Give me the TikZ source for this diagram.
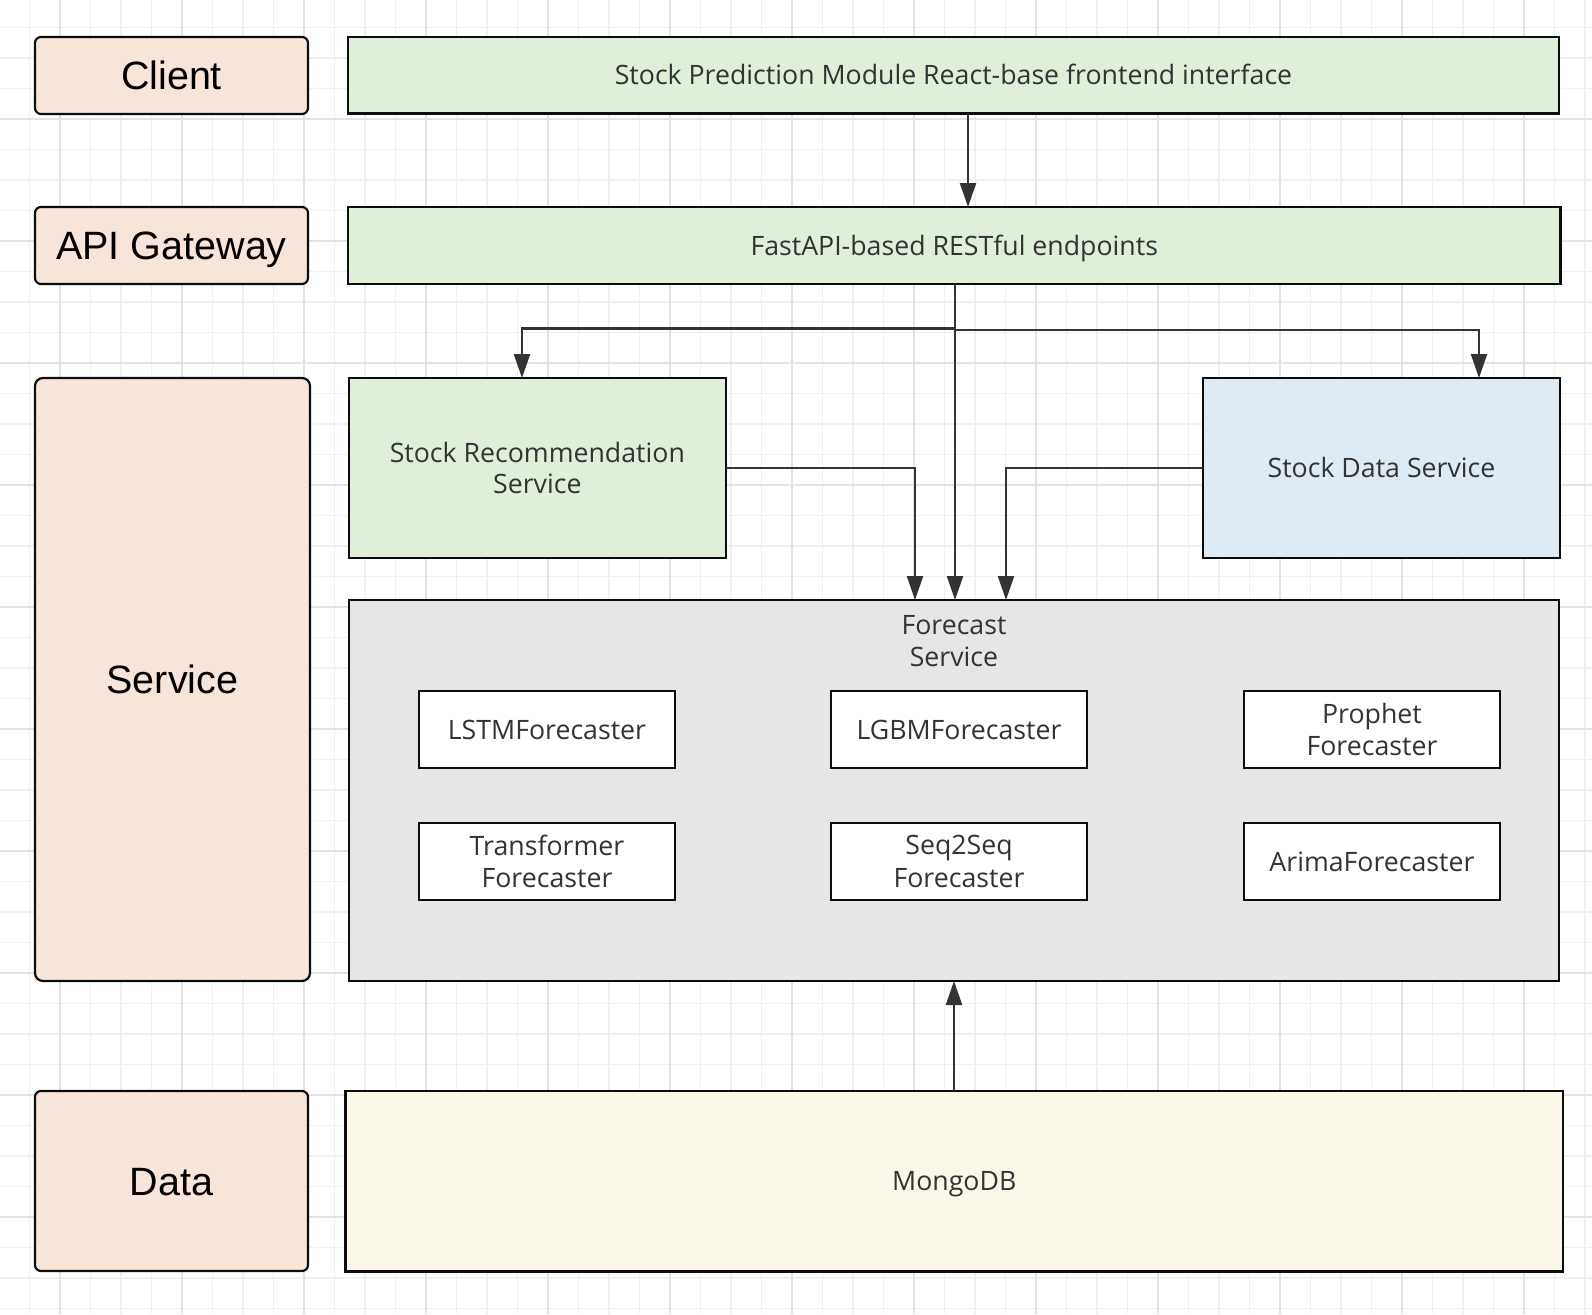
\documentclass[tikz,border=0pt]{standalone}
\usepackage{fontspec}
\setmainfont{Open Sans}
\newfontfamily\arialfont{Liberation Sans}
\usetikzlibrary{arrows.meta}
\definecolor{peach}{HTML}{F8E5DA}
\definecolor{lgreen}{HTML}{E0EFDA}
\definecolor{lblue}{HTML}{DEEAF4}
\definecolor{lgray}{HTML}{E6E6E6}
\definecolor{cream}{HTML}{FBF7E9}
\definecolor{txt}{HTML}{333333}
\definecolor{gminor}{HTML}{F0F0F0}
\definecolor{gmajor}{HTML}{E3E3E3}
\definecolor{conn}{HTML}{333333}
\tikzset{
  gridminor/.style={draw=gminor, line width=1.5pt},
  gridmajor/.style={draw=gmajor, line width=2pt},
  layerbox/.style={draw=black!95, line width=2.2pt, fill=peach, rounded corners=6pt,
    inner sep=0pt, outer sep=0pt, font=\arialfont\fontsize{39.5}{46}\selectfont, text=black,
    text height=28.3pt, text depth=0pt},
  compbox/.style={draw=black!95, line width=2.4pt, inner sep=0pt, outer sep=0pt,
    font=\fontsize{26.7}{32.5}\selectfont, text=txt, align=center},
  oneline/.style={text height=19.1pt, text depth=0pt},
  innerbox/.style={compbox, fill=white},
  conn/.style={draw=conn, line width=2.2pt, -{Triangle[length=24pt,width=16pt]}},
}
\begin{document}
\begin{tikzpicture}[x=1pt,y=-1pt]
\useasboundingbox (0,0) rectangle (1592,1314);
\fill[white] (0,0) rectangle (1592,1314);
% grid
\foreach \k in {0,...,52} \draw[gridminor] ({-1+30.5*\k},0) -- ({-1+30.5*\k},1314);
\foreach \k in {0,...,43} \draw[gridminor] (0,{-3+30.5*\k}) -- (1592,{-3+30.5*\k});
\foreach \k in {0,...,12} \draw[gridmajor] ({60+122*\k},0) -- ({60+122*\k},1314);
\foreach \k in {0,...,10} \draw[gridmajor] (0,{-3+122*\k}) -- (1592,{-3+122*\k});

% layer labels
\node[layerbox, minimum width=273pt, minimum height=77pt] (client) at (171.5,75.5) {Client};
\node[layerbox, minimum width=273pt, minimum height=77pt] (gw) at (171.5,245.5) {API Gateway};
\node[layerbox, rounded corners=8pt, minimum width=275pt, minimum height=603pt] (svc) at (172.5,679.5) {Service};
\node[layerbox, minimum width=273pt, minimum height=180pt] (data) at (171.5,1181) {Data};

% components
\node[compbox, oneline, fill=lgreen, minimum width=1211pt, minimum height=76.5pt] (sp) at (953.5,75.25) {Stock Prediction Module React-base frontend interface};
\node[compbox, oneline, fill=lgreen, minimum width=1212.5pt, minimum height=77pt] (api) at (954.25,245.5) {FastAPI-based RESTful endpoints};
\node[compbox, fill=lgreen, minimum width=376.7pt, minimum height=180pt] (rec) at (537.35,468) {Stock Recommendation\\[-1pt]Service};
\node[compbox, oneline, fill=lblue, minimum width=357pt, minimum height=180pt] (sds) at (1381.5,468) {Stock Data Service};
\node[compbox, fill=lgray, minimum width=1210pt, minimum height=381pt] (fc) at (954,790.5) {};
\node[font=\fontsize{26.7}{32.5}\selectfont, text=txt, align=center, inner sep=0pt] (fclabel) at (954,641) {Forecast\\Service};
\node[compbox, oneline, fill=cream, minimum width=1217.5pt, minimum height=180.5pt] (mongo) at (954.25,1181.25) {MongoDB};

% forecasters
\node[innerbox, oneline, minimum width=256pt, minimum height=77pt] (lstm) at (547,729.5) {LSTMForecaster};
\node[innerbox, oneline, minimum width=256pt, minimum height=77pt] (lgbm) at (959,729.5) {LGBMForecaster};
\node[innerbox, minimum width=256pt, minimum height=77pt] (prophet) at (1372,729.5) {Prophet\\Forecaster};
\node[innerbox, minimum width=256pt, minimum height=77pt] (trans) at (547,861.5) {Transformer\\Forecaster};
\node[innerbox, minimum width=256pt, minimum height=77pt] (s2s) at (959,861.5) {Seq2Seq\\Forecaster};
\node[innerbox, oneline, minimum width=256pt, minimum height=77pt] (arima) at (1372,861.5) {ArimaForecaster};

% connector guide coordinates
\coordinate (xa) at (968,0);
\coordinate (xt) at (955,0);
\coordinate (xr) at (522,0);
\coordinate (xd) at (1479,0);
\coordinate (xrd) at (915,0);
\coordinate (xdd) at (1006,0);
\coordinate (xm) at (954,0);
\coordinate (yl) at (0,328.5);
\coordinate (yr) at (0,330);

% connectors
\draw[conn] (sp.south -| xa) -- (api.north -| xa);
\draw[conn] (api.south -| xt) |- (xr |- yl) -- (rec.north -| xr);
\draw[conn] (api.south -| xt) |- (xd |- yr) -- (sds.north -| xd);
\draw[conn] (api.south -| xt) -- (fc.north -| xt);
\draw[conn] (rec.east) -| (fc.north -| xrd);
\draw[conn] (sds.west) -| (fc.north -| xdd);
\draw[conn] (mongo.north -| xm) -- (fc.south -| xm);
\end{tikzpicture}
\end{document}
